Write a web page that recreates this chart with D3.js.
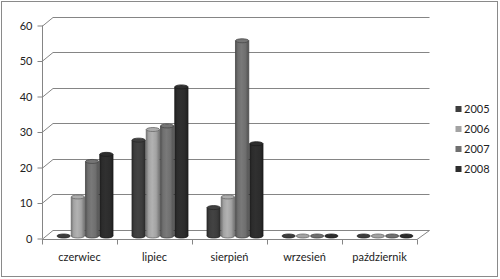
<!DOCTYPE html>
<html><head><meta charset="utf-8">
<script src="https://cdn.jsdelivr.net/npm/d3@7"></script>
<style>body{margin:0;background:#fff}svg{display:block}</style>
</head><body>
<script>
const categories = ["czerwiec","lipiec","sierpień","wrzesień","październik"];
const seriesNames = ["2005","2006","2007","2008"];
const v2005 = [0, 27, 8, 0, 0];
const v2006 = [11, 30, 11, 0, 0];
const v2007 = [21, 31, 55, 0, 0];
const v2008 = [23, 42, 26, 0, 0];
const yTicks = [0,10,20,30,40,50,60];
const colors = ["#3d3d3d","#a3a3a3","#6f6f6f","#2c2c2c"];

const values = [v2005, v2006, v2007, v2008];
const W = 500, H = 279;
const svg = d3.select("body").append("svg").attr("width", W).attr("height", H);
svg.append("rect").attr("width",W).attr("height",H).attr("fill","#fff");
svg.append("rect").attr("x",1.5).attr("y",1.5).attr("width",496).attr("height",275)
  .attr("fill","none").attr("stroke","#8a8a8a").attr("stroke-width",1);

const font = "Lato, 'Liberation Sans', sans-serif";
const y = d3.scaleLinear().domain([0,60]).range([238.5,25.5]);
const x0 = d3.scaleBand().domain(categories).range([42,417]);
const x1 = d3.scaleBand().domain(seriesNames).range([0,56]).paddingInner(0.07);
const dxL = 11, dxR = 12.5, dy = -9;
const gridColor = "#858585";

// gridlines (left wall diagonal + back wall)
const g = svg.append("g");
yTicks.forEach(t => {
  const yy = Math.round(y(t)) + 0.5;
  g.append("path").attr("d", `M42,${yy} L${42+dxL},${yy+dy} L${417+dxR},${yy+dy}`)
    .attr("fill","none").attr("stroke",gridColor).attr("stroke-width",1);
});
// floor front + right edge
const y0 = Math.round(y(0)) + 0.5;
g.append("path").attr("d", `M42,${y0} L417,${y0} L${417+dxR},${y0+dy}`)
  .attr("fill","none").attr("stroke",gridColor);

// y axis
const yAxis = d3.axisLeft(y).tickValues(yTicks).tickSize(5).tickPadding(5);
const ya = svg.append("g").attr("transform","translate(42.5,0)").call(yAxis);
ya.select(".domain").attr("stroke",gridColor).attr("d", `M-0,${y(60)}V${y(0)}`);
ya.selectAll(".tick line").attr("stroke",gridColor);
ya.selectAll(".tick text").attr("font-family",font).attr("font-size",11).attr("fill","#222");

// x axis
const xAxis = d3.axisBottom(x0).tickSize(0).tickPadding(14);
const xa = svg.append("g").attr("transform",`translate(0,${y0})`).call(xAxis);
xa.select(".domain").remove();
xa.selectAll(".tick text").attr("font-family",font).attr("font-size",11).attr("fill","#222");
const bounds = categories.map(c => x0(c)).concat([417]);
xa.selectAll(".xt").data(bounds).enter().append("line").attr("class","xt")
  .attr("x1",d=>Math.round(d)+0.5).attr("x2",d=>Math.round(d)+0.5)
  .attr("y1",0).attr("y2",5).attr("stroke",gridColor);

// gradients
const defs = svg.append("defs");
colors.forEach((c,i) => {
  const base = d3.color(c);
  const gr = defs.append("linearGradient").attr("id","cyl"+i).attr("x1","0").attr("x2","1").attr("y1","0").attr("y2","0");
  [[0, base.darker(0.9)],[0.18, base],[0.45, base.brighter(0.25)],[0.75, base],[1, base.darker(0.9)]]
    .forEach(([o,col]) => gr.append("stop").attr("offset",o).attr("stop-color",col.formatHex()));
});

// bars (cylinders)
const barOffX = 5.5, barOffY = -2.5, ry = 2;
const bars = svg.append("g");
categories.forEach((cat, ci) => {
  const gx = x0(cat) + x0.bandwidth()/2 + barOffX - 28;
  seriesNames.forEach((s, si) => {
    const v = values[si][ci];
    const bx = gx + x1(s);
    const w = x1.bandwidth();
    const yb = y(0) + barOffY;
    const yt = y(v) + barOffY;
    const base = d3.color(colors[si]);
    const bg = bars.append("g");
    if (v > 0) {
      bg.append("ellipse").attr("cx",bx+w/2).attr("cy",yb).attr("rx",w/2).attr("ry",ry)
        .attr("fill",`url(#cyl${si})`).attr("stroke",base.darker(1.2).formatHex()).attr("stroke-width",0.8);
      bg.append("rect").attr("x",bx).attr("y",yt).attr("width",w).attr("height",yb-yt)
        .attr("fill",`url(#cyl${si})`);
      bg.append("path").attr("d",`M${bx},${yt}V${yb} M${bx+w},${yt}V${yb}`)
        .attr("stroke",base.darker(1.2).formatHex()).attr("stroke-width",0.8);
    }
    bg.append("ellipse").attr("cx",bx+w/2).attr("cy",yt).attr("rx",w/2).attr("ry",ry)
      .attr("fill",base.brighter(v>0?0.15:0).formatHex()).attr("stroke",base.darker(1.2).formatHex()).attr("stroke-width",0.8);
  });
});

// legend
const leg = svg.append("g");
seriesNames.forEach((s,i) => {
  const ly = 109 + i*20;
  leg.append("rect").attr("x",455.5).attr("y",ly-3).attr("width",6).attr("height",6)
    .attr("fill",colors[i]);
  leg.append("text").attr("x",464).attr("y",ly).attr("dy","0.35em")
    .attr("font-family",font).attr("font-size",11).attr("fill","#222").text(s);
});
</script>
</body></html>
